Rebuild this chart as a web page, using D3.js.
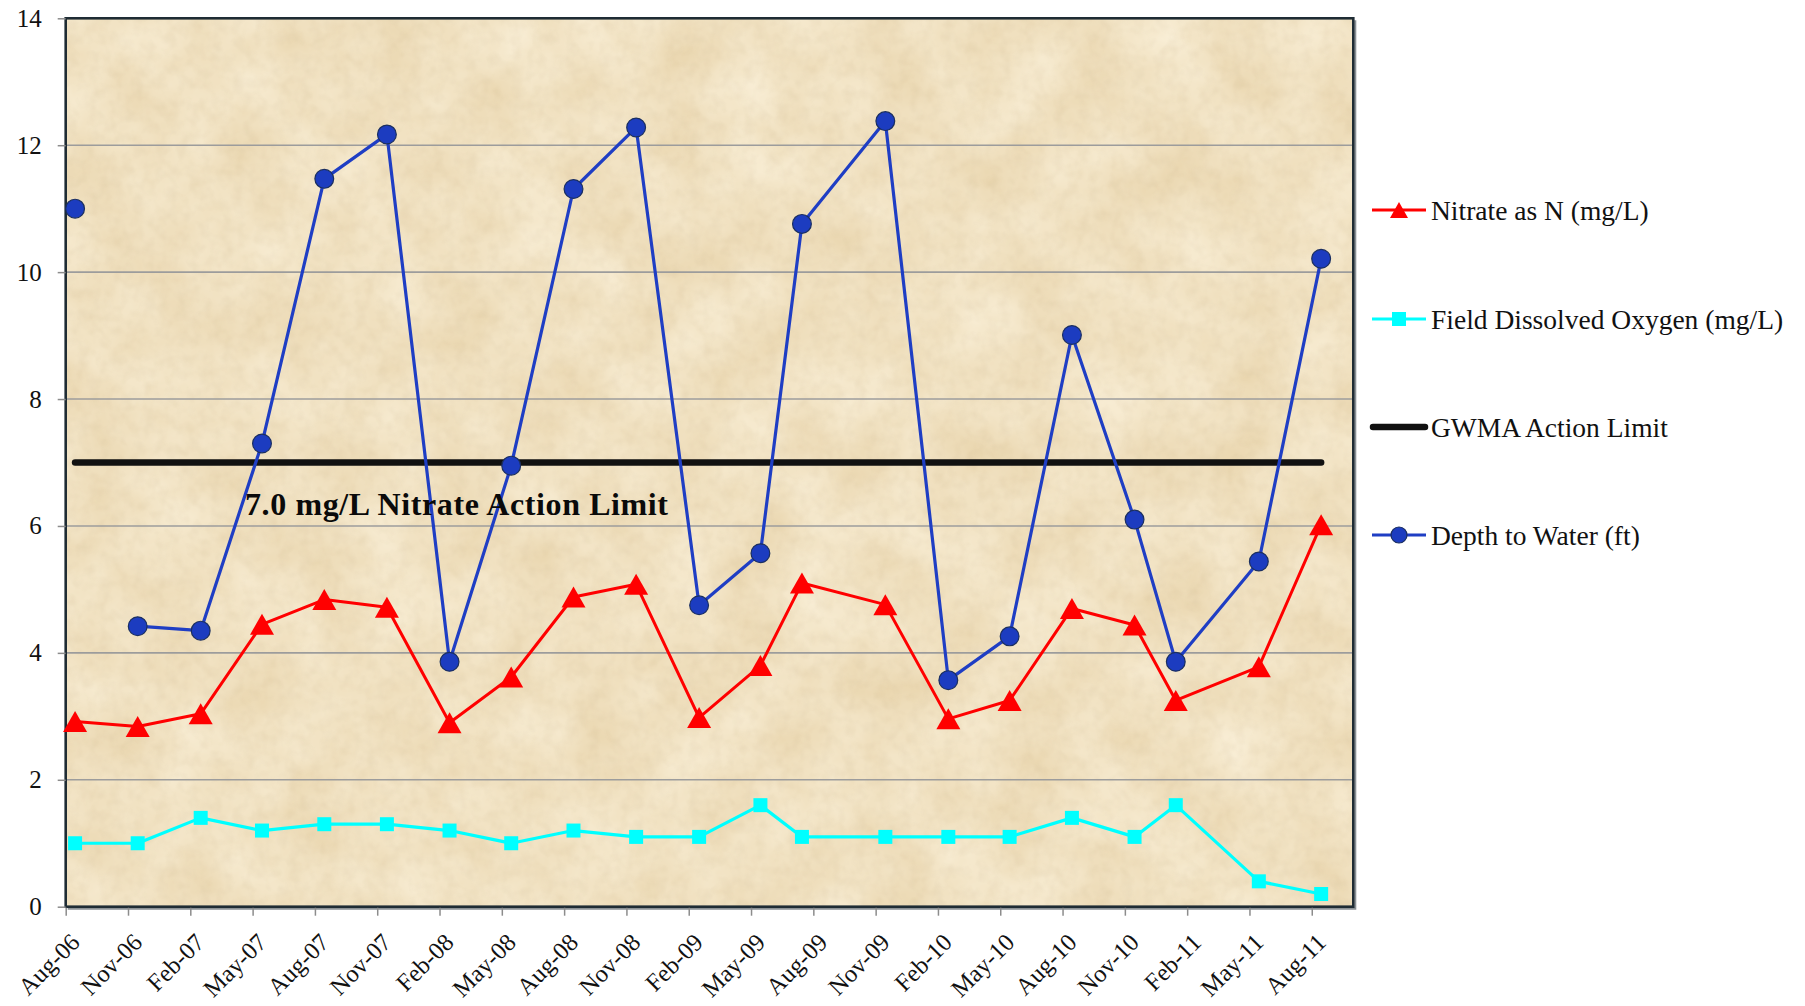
<!DOCTYPE html>
<html><head><meta charset="utf-8">
<script src="https://cdn.jsdelivr.net/npm/d3@7"></script>
<style>body{margin:0;background:#fff}svg{display:block}</style>
</head><body><svg id="c" width="1805" height="1006"></svg>
<script>
// ---------- data ----------
const sampleDates = ["2006-08-15","2006-11-15","2007-02-15","2007-05-15","2007-08-15","2007-11-15",
  "2008-02-15","2008-05-15","2008-08-15","2008-11-15","2009-02-15","2009-05-15","2009-07-15",
  "2009-11-15","2010-02-15","2010-05-15","2010-08-15","2010-11-15","2011-01-15","2011-05-15","2011-08-15"];
const nitrate = [2.92,2.84,3.04,4.45,4.84,4.72,2.90,3.62,4.88,5.08,2.98,3.80,5.10,4.76,2.96,3.25,4.70,4.44,3.25,3.78,6.02];
const dissolvedOxygen = [1.0,1.0,1.4,1.2,1.3,1.3,1.2,1.0,1.2,1.1,1.1,1.6,1.1,1.1,1.1,1.1,1.4,1.1,1.6,0.4,0.2];
const depthToWater = [11.0,4.42,4.35,7.3,11.47,12.17,3.86,6.95,11.31,12.28,4.75,5.57,10.76,12.38,3.57,4.26,9.01,6.1,3.86,5.44,10.21];
const depthConnectedFrom = 1;   // first Depth sample stands alone (gap in the record)
const actionLimit = 7.0;
const actionLabel = "7.0 mg/L Nitrate Action Limit";
const tickLabels = ["Aug-06","Nov-06","Feb-07","May-07","Aug-07","Nov-07","Feb-08","May-08","Aug-08","Nov-08",
  "Feb-09","May-09","Aug-09","Nov-09","Feb-10","May-10","Aug-10","Nov-10","Feb-11","May-11","Aug-11"];
const axisStart = "Aug-06", axisEnd = "Oct-11";
const yTicks = [0,2,4,6,8,10,12,14];
const seriesNames = ["Nitrate as N (mg/L)","Field Dissolved Oxygen (mg/L)","GWMA Action Limit","Depth to Water (ft)"];

// ---------- helpers ----------
const parseDay = d3.timeParse("%Y-%m-%d");
const parseMon = d3.timeParse("%b-%y");
const base = parseMon(axisStart);
function monthIndex(dt){
  const m = (dt.getFullYear()-base.getFullYear())*12 + dt.getMonth()-base.getMonth();
  const dim = new Date(dt.getFullYear(), dt.getMonth()+1, 0).getDate();
  return m + (dt.getDate()-1)/dim;
}
const xs = sampleDates.map(s => monthIndex(parseDay(s)));

// ---------- layout ----------
const L = 65.7, R = 1353.3, T = 18.3, B = 906.7;
const svg = d3.select("#c");
const x = d3.scaleLinear().domain([0, monthIndex(parseMon(axisEnd))]).range([L, R]);
const y = d3.scaleLinear().domain([0, 14]).range([B, T]);

// parchment texture
const defs = svg.append("defs");
const f = defs.append("filter").attr("id","parch").attr("x",0).attr("y",0).attr("width",1).attr("height",1)
  .attr("color-interpolation-filters","sRGB");
f.append("feTurbulence").attr("type","fractalNoise").attr("baseFrequency","0.014").attr("numOctaves",5).attr("seed",7).attr("result","n");
f.append("feColorMatrix").attr("in","n").attr("type","matrix")
  .attr("values","0.07 0 0 0 0.91  0.11 0 0 0 0.83  0.18 0 0 0 0.67  0 0 0 0 1");
const fine = defs.append("filter").attr("id","grain").attr("x",0).attr("y",0).attr("width",1).attr("height",1)
  .attr("color-interpolation-filters","sRGB");
fine.append("feTurbulence").attr("type","fractalNoise").attr("baseFrequency","0.09").attr("numOctaves",2).attr("seed",3).attr("result","g");
fine.append("feColorMatrix").attr("in","g").attr("type","matrix")
  .attr("values","0 0 0 0 0.62  0 0 0 0 0.52  0 0 0 0 0.36  0.5 0 0 0 -0.2");

svg.append("rect").attr("x",L).attr("y",T).attr("width",R-L).attr("height",B-T).attr("filter","url(#parch)");
svg.append("rect").attr("x",L).attr("y",T).attr("width",R-L).attr("height",B-T).attr("filter","url(#grain)").attr("opacity",0.3);

// gridlines
svg.append("g").selectAll("line").data(yTicks.filter(v => v>0 && v<14)).join("line")
  .attr("x1",L).attr("x2",R).attr("y1",d=>y(d)).attr("y2",d=>y(d))
  .attr("stroke","#9c9c9c").attr("stroke-width",1.6);

// border with shadow
svg.append("path").attr("d",`M${R+2},${T+2}V${B+2}H${L+2}`).attr("fill","none").attr("stroke","#8a9094").attr("stroke-width",2);
svg.append("rect").attr("x",L).attr("y",T).attr("width",R-L).attr("height",B-T)
  .attr("fill","none").attr("stroke","#1f2c34").attr("stroke-width",2.6);

// y axis
const yAx = svg.append("g").attr("transform",`translate(${L},0)`)
  .call(d3.axisLeft(y).tickValues(yTicks).tickSize(8).tickPadding(16).tickFormat(d3.format("d")));
yAx.select(".domain").remove();
yAx.selectAll(".tick line").attr("stroke","#8c8c8c").attr("stroke-width",1.5);
yAx.selectAll(".tick text").attr("font-family","'Liberation Serif', serif").attr("font-size",25).attr("fill","#111");

// x axis
const tickMonths = tickLabels.map(s => monthIndex(parseMon(s)));
const xAx = svg.append("g").attr("transform",`translate(0,${B+1})`)
  .call(d3.axisBottom(x).tickValues(tickMonths).tickSize(8).tickFormat((d,i)=>tickLabels[i]));
xAx.select(".domain").remove();
xAx.selectAll(".tick line").attr("stroke","#8c8c8c").attr("stroke-width",1.5);
xAx.selectAll(".tick text").attr("font-family","'Liberation Serif', serif").attr("font-size",24.5).attr("fill","#111")
  .attr("text-anchor","end").attr("y",0).attr("dy","0.35em")
  .attr("transform","translate(9,30) rotate(-45)");

// series
const lineGen = d3.line().x(d=>x(d[0])).y(d=>y(d[1]));
const nitPts = xs.map((v,i)=>[v,nitrate[i]]);
const doPts = xs.map((v,i)=>[v,dissolvedOxygen[i]]);
const depPts = xs.map((v,i)=>[v,depthToWater[i]]);
const limPts = [[xs[0],actionLimit],[xs[xs.length-1],actionLimit]];

const tri = (w,h) => `M0,${-h/2}L${w/2},${h/2}L${-w/2},${h/2}Z`;

// nitrate
svg.append("path").attr("d",lineGen(nitPts)).attr("fill","none").attr("stroke","#ff0000").attr("stroke-width",3).attr("stroke-linejoin","round");
svg.append("g").selectAll("path").data(nitPts).join("path")
  .attr("d",tri(24,21)).attr("transform",d=>`translate(${x(d[0])},${y(d[1])})`).attr("fill","#ff0000");

// dissolved oxygen
svg.append("path").attr("d",lineGen(doPts)).attr("fill","none").attr("stroke","#00ffff").attr("stroke-width",3.2).attr("stroke-linejoin","round");
svg.append("g").selectAll("rect").data(doPts).join("rect")
  .attr("x",d=>x(d[0])-7).attr("y",d=>y(d[1])-7).attr("width",14).attr("height",14).attr("fill","#00ffff");

// GWMA limit
svg.append("path").attr("d",lineGen(limPts)).attr("stroke","#111").attr("stroke-width",6.5).attr("stroke-linecap","round");

// depth
svg.append("path").attr("d",lineGen(depPts.slice(depthConnectedFrom))).attr("fill","none").attr("stroke","#1f3ec4").attr("stroke-width",3.2).attr("stroke-linejoin","round");
svg.append("g").selectAll("circle").data(depPts).join("circle")
  .attr("cx",d=>x(d[0])).attr("cy",d=>y(d[1])).attr("r",9.4)
  .attr("fill","#1c3cc0").attr("stroke","#1b2f60").attr("stroke-width",1.2);

// annotation
svg.append("text").attr("x",245).attr("y",y(actionLimit)+52).text(actionLabel)
  .attr("font-family","'Liberation Serif', serif").attr("font-weight","bold").attr("font-size",32)
  .attr("letter-spacing",0.6).attr("fill","#0a0a0a");

// legend
const lg = svg.append("g").attr("transform","translate(1372,0)");
const rows = [210,319,427,535];
const lx1 = 0, lx2 = 54, lm = 27;
lg.append("line").attr("x1",lx1).attr("x2",lx2).attr("y1",rows[0]).attr("y2",rows[0]).attr("stroke","#ff0000").attr("stroke-width",3);
lg.append("path").attr("d",tri(18,16)).attr("transform",`translate(${lm},${rows[0]})`).attr("fill","#ff0000");
lg.append("line").attr("x1",lx1).attr("x2",lx2).attr("y1",rows[1]).attr("y2",rows[1]).attr("stroke","#00ffff").attr("stroke-width",3);
lg.append("rect").attr("x",lm-7).attr("y",rows[1]-7).attr("width",14).attr("height",14).attr("fill","#00ffff");
lg.append("line").attr("x1",lx1+1).attr("x2",lx2-1).attr("y1",rows[2]).attr("y2",rows[2]).attr("stroke","#111").attr("stroke-width",6.5).attr("stroke-linecap","round");
lg.append("line").attr("x1",lx1).attr("x2",lx2).attr("y1",rows[3]).attr("y2",rows[3]).attr("stroke","#1f3ec4").attr("stroke-width",3);
lg.append("circle").attr("cx",lm).attr("cy",rows[3]).attr("r",8).attr("fill","#1c3cc0").attr("stroke","#1b2f60").attr("stroke-width",1.2);
lg.selectAll("text").data(seriesNames).join("text")
  .attr("x",59).attr("y",(d,i)=>rows[i]).attr("dy","0.35em").text(d=>d)
  .attr("font-family","'Liberation Serif', serif").attr("font-size",27.5).attr("fill","#111");
</script></body></html>
